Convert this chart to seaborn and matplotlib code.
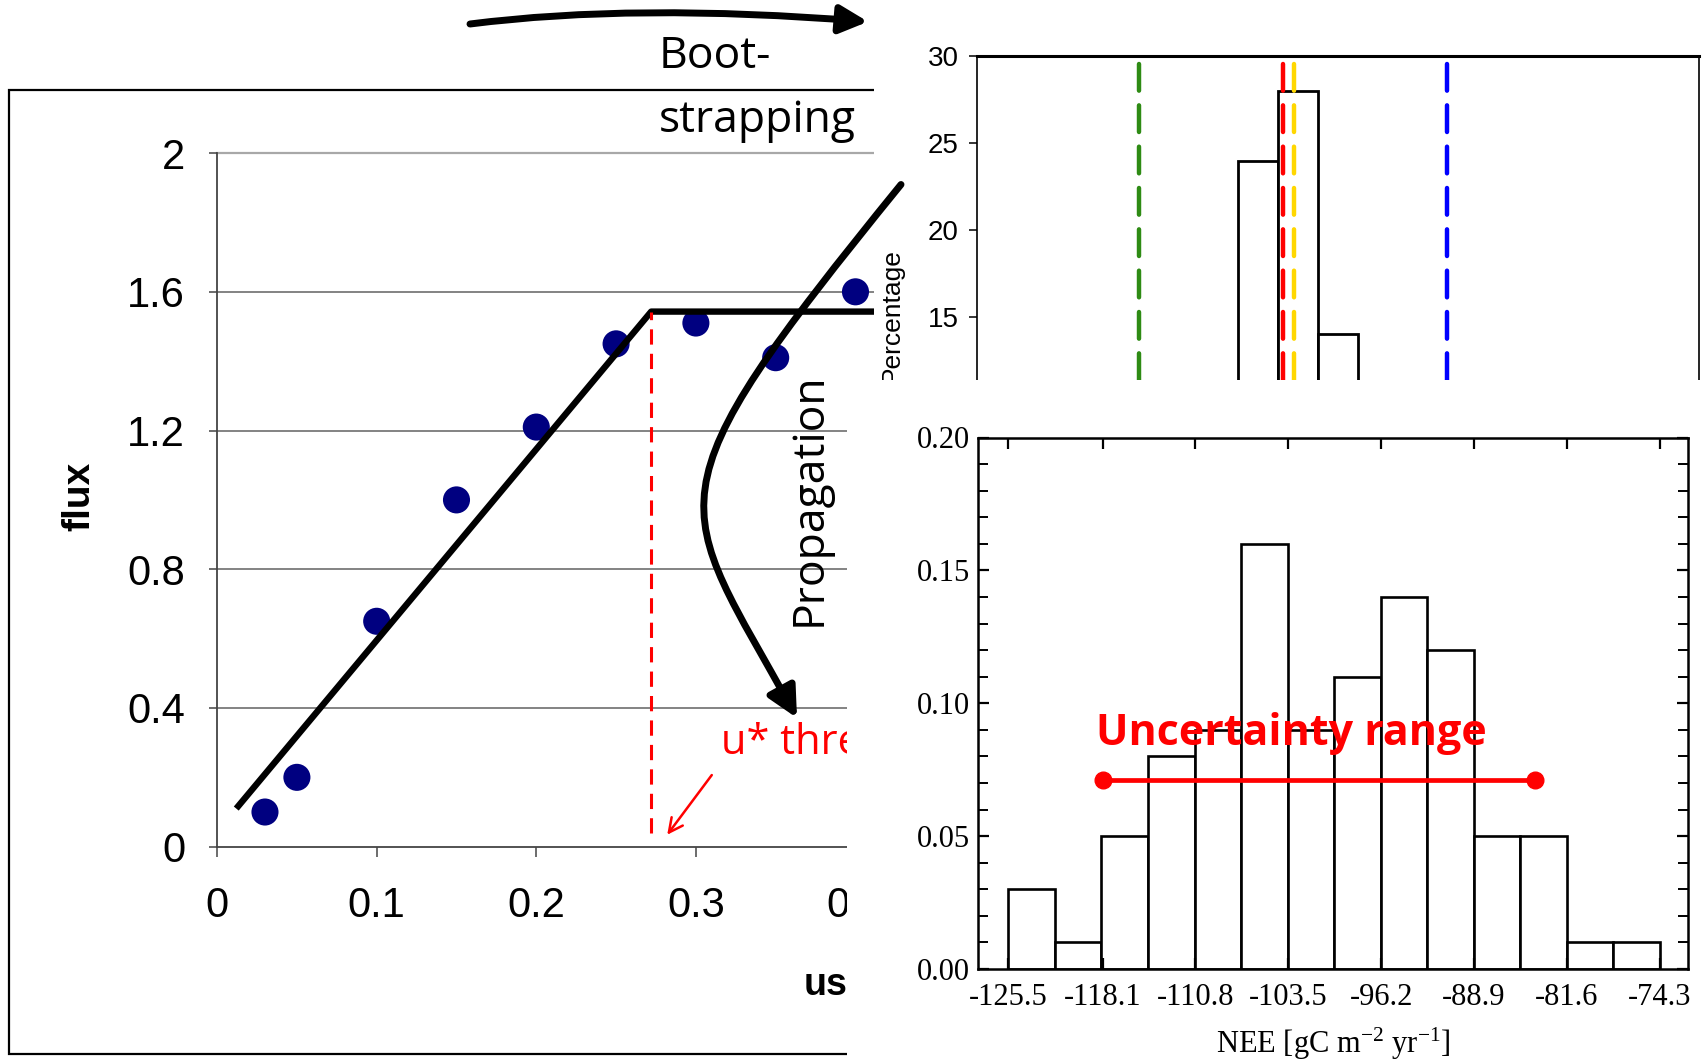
import numpy as np
import matplotlib
matplotlib.use("Agg")
import matplotlib.pyplot as plt
import seaborn as sns
from matplotlib.patches import Rectangle, FancyArrowPatch, ArrowStyle
from matplotlib.path import Path
from matplotlib.ticker import MultipleLocator

# ---------------- data ----------------
# left panel: flux vs u* (change-point fit)
ustar = [0.03, 0.05, 0.10, 0.15, 0.20, 0.25, 0.30, 0.35, 0.40]
flux = [0.10, 0.20, 0.65, 1.00, 1.21, 1.45, 1.51, 1.41, 1.60]
fit_ustar = [0.012, 0.272, 0.42]
fit_flux = [0.11, 1.543, 1.543]
ustar_threshold = 0.272
threshold_span = [0.04, 1.543]
flux_yticks = [0, 0.4, 0.8, 1.2, 1.6, 2.0]
flux_yticklabels = ["0", "0.4", "0.8", "1.2", "1.6", "2"]
ustar_xticks = [0, 0.1, 0.2, 0.3, 0.4]
ustar_xticklabels = ["0", "0.1", "0.2", "0.3", "0.4"]

# top-right panel: bootstrapped thresholds (percentage histogram, zoomed)
boot_bin_edges = [0, 1, 2, 3]
boot_pct = [24, 28, 14]
boot_yticks = [15, 20, 25, 30]
boot_lines = [-2.46, 1.14, 1.41, 5.21]
boot_line_colors = ["#2e8b14", "#ff0000", "#ffd700", "#0000ff"]

# bottom-right panel: NEE distribution
nee_edges = [-125.5, -121.84, -118.19, -114.53, -110.87, -107.21, -103.56,
             -99.90, -96.24, -92.59, -88.93, -85.27, -81.61, -77.96, -74.3]
nee_freq = [0.03, 0.01, 0.05, 0.08, 0.09, 0.16, 0.09, 0.11, 0.14, 0.12,
            0.05, 0.05, 0.01, 0.01]
nee_ticks = [-125.5, -118.1, -110.8, -103.5, -96.2, -88.9, -81.6, -74.3]
nee_ticklabels = ["-125.5", "-118.1", "-110.8", "-103.5", "-96.2", "-88.9",
                  "-81.6", "-74.3"]
nee_yticks = [0.0, 0.05, 0.10, 0.15, 0.20]
nee_yticklabels = ["0.00", "0.05", "0.10", "0.15", "0.20"]
unc_range = [-118.1, -84.1]
unc_level = 0.071

# ---------------- style ----------------
plt.rcParams['font.family'] = ['Liberation Sans', 'DejaVu Sans']
plt.rcParams['mathtext.fontset'] = 'custom'
plt.rcParams['mathtext.rm'] = 'Liberation Serif'
plt.rcParams['mathtext.it'] = 'Liberation Serif:italic'
plt.rcParams['mathtext.bf'] = 'Liberation Serif:bold'

W, H = 1702, 1060
fig = plt.figure(figsize=(W / 100, H / 100), dpi=100)
fig.patch.set_facecolor('white')


def fx(px):
    return px / W


def fy(py):
    return 1 - py / H


def box(x0, y0, x1, y1):
    return [x0 / W, 1 - y1 / H, (x1 - x0) / W, (y1 - y0) / H]


# ---------------- left panel ----------------
ax1 = fig.add_axes(box(217.1, 153.1, 887.4, 846.7))
ax1.set_zorder(0)
ax1.patch.set_alpha(0)
for yv in flux_yticks[1:]:
    if yv == flux_yticks[-1]:
        ax1.axhline(yv, color='#a8a8a8', lw=1.6, zorder=1, clip_on=False)
    else:
        ax1.axhline(yv, color='#6e6e6e', lw=1.2, zorder=1)
sns.scatterplot(x=ustar, y=flux, ax=ax1, s=380, color='#000080',
                edgecolor='none', zorder=2, legend=False)
ax1.plot(fit_ustar, fit_flux, color='black', lw=4.6, zorder=3,
         solid_capstyle='butt')
ax1.plot([ustar_threshold, ustar_threshold], threshold_span, color='red',
         lw=2.2, dashes=(5, 3), zorder=3)
ax1.annotate('', xy=(0.281, 0.028), xytext=(0.311, 0.213),
             arrowprops=dict(arrowstyle='->', color='red', lw=1.8,
                             mutation_scale=25))
ax1.text(0.316, 0.30, 'u* threshold', color='red', fontsize=30,
         family='Open Sans', va='center', ha='left')
ax1.set_xlim(0, 0.42)
ax1.set_ylim(0, 2)
ax1.set_xlabel('')
ax1.set_ylabel('')
for s in ['top', 'right']:
    ax1.spines[s].set_visible(False)
for s in ['left', 'bottom']:
    ax1.spines[s].set_color('#444444')
    ax1.spines[s].set_linewidth(1.3)
ax1.set_yticks(flux_yticks, flux_yticklabels)
ax1.set_xticks(ustar_xticks, ustar_xticklabels)
ax1.tick_params(axis='y', direction='out', length=6, width=1.1,
                color='#444444', pad=17, labelsize=30)
ax1.tick_params(axis='x', direction='out', length=7, width=1.1,
                color='#444444', pad=21, labelsize=30)
ax1.text(fx(79), fy(496), 'flux', transform=fig.transFigure, rotation=90,
         fontweight='bold', fontsize=28, ha='center', va='center')
ax1.text(fx(804), fy(985), 'ustar', transform=fig.transFigure,
         fontweight='bold', fontsize=27, ha='left', va='center')

# outer frame of the left panel
fig.add_artist(Rectangle((fx(8.5), fy(1054)), (1690 - 8.5) / W,
                         (1054 - 90) / H, transform=fig.transFigure,
                         fill=False, ec='black', lw=1.6, zorder=0.5))

# white overlays for the right-hand panels
fig.add_artist(Rectangle((fx(874), fy(380)), (W - 874) / W, 380 / H,
                         transform=fig.transFigure, fc='white', ec='none',
                         zorder=1))
fig.add_artist(Rectangle((fx(847), 0), (W - 847) / W, (H - 380) / H,
                         transform=fig.transFigure, fc='white', ec='none',
                         zorder=2.5))

# ---------------- top-right panel ----------------
ax2 = fig.add_axes(box(977, 56.4, 1699, 380))
ax2.set_zorder(2)
boot_centers = [(a + b) / 2 for a, b in zip(boot_bin_edges[:-1], boot_bin_edges[1:])]
sns.histplot(x=boot_centers, weights=boot_pct, bins=boot_bin_edges, ax=ax2,
             color='white', edgecolor='black', linewidth=2.0, alpha=1)
for xv, c in zip(boot_lines, boot_line_colors):
    ax2.axvline(xv, color=c, lw=3.2, dashes=(6, 3.3), dash_capstyle='round',
                zorder=3)
ax2.set_xlim(-6.5, 11.5)
ax2.set_ylim(11.37, 30)
ax2.set_xlabel('')
ax2.set_ylabel('')
ax2.spines['bottom'].set_visible(False)
ax2.spines['top'].set_linewidth(2.2)
ax2.spines['left'].set_linewidth(1.2)
ax2.spines['right'].set_linewidth(1.2)
ax2.set_xticks([])
ax2.set_yticks(boot_yticks, [str(v) for v in boot_yticks])
ax2.tick_params(axis='y', direction='out', length=6, width=1.1, pad=7,
                labelsize=20)
ax2.text(fx(892), fy(316), 'Percentage', transform=fig.transFigure,
         rotation=90, fontsize=19, ha='center', va='center')

# ---------------- bottom-right panel ----------------
ax3 = fig.add_axes(box(978, 437.5, 1688, 969))
ax3.set_zorder(3)
nee_centers = [(a + b) / 2 for a, b in zip(nee_edges[:-1], nee_edges[1:])]
sns.histplot(x=nee_centers, weights=nee_freq, bins=nee_edges, ax=ax3,
             color='white', edgecolor='black', linewidth=1.9, alpha=1)
ax3.plot(unc_range, [unc_level, unc_level], color='red', lw=3.4,
         marker='o', ms=12, zorder=4)
ax3.text(-118.6, 0.0843, 'Uncertainty range', color='red', fontsize=31,
         fontweight='bold', family='Open Sans', va='baseline', ha='left',
         zorder=5)
ax3.set_xlim(-127.89, -72.08)
ax3.set_ylim(0, 0.2)
ax3.set_xlabel('')
ax3.set_ylabel('')
for s in ax3.spines.values():
    s.set_linewidth(1.8)
ax3.set_xticks(nee_ticks, nee_ticklabels)
ax3.set_yticks(nee_yticks, nee_yticklabels)
ax3.yaxis.set_minor_locator(MultipleLocator(0.01))
ax3.tick_params(axis='y', which='major', direction='in', left=True,
                right=True, length=8, width=1.6, pad=6, labelsize=22,
                labelfontfamily='Liberation Serif')
ax3.tick_params(axis='y', which='minor', direction='in', left=True,
                right=True, length=7, width=1.4)
ax3.tick_params(axis='x', which='major', direction='in', top=True,
                bottom=True, length=8, width=1.6, pad=10, labelsize=22,
                labelfontfamily='Liberation Serif')
ax3.text(fx(1333), fy(1044), r'NEE [gC m$^{-2}$ yr$^{-1}$]',
         transform=fig.transFigure, family='Liberation Serif', fontsize=22,
         ha='center', va='center')

# ---------------- annotations on top ----------------
top_arrow = Path([(fx(470), fy(24)), (fx(634), fy(3)), (fx(868), fy(21.7))],
                 [Path.MOVETO, Path.CURVE3, Path.CURVE3])
fig.add_artist(FancyArrowPatch(path=top_arrow, transform=fig.transFigure,
                               arrowstyle=ArrowStyle('-|>', head_length=0.7,
                                                     head_width=0.35),
                               mutation_scale=24, lw=5, color='black',
                               zorder=5))
curve_arrow = Path([(fx(901), fy(184.5)), (fx(640.4), fy(504.8)),
                    (fx(675.2), fy(497.2)), (fx(797), fy(718))],
                   [Path.MOVETO, Path.CURVE4, Path.CURVE4, Path.CURVE4])
fig.add_artist(FancyArrowPatch(path=curve_arrow, transform=fig.transFigure,
                               arrowstyle=ArrowStyle('-|>', head_length=0.7,
                                                     head_width=0.35),
                               mutation_scale=26, lw=5, color='black',
                               zorder=5))

fig.text(fx(659), fy(68), 'Boot-', family='Open Sans', fontsize=32,
         va='baseline', ha='left', zorder=5)
fig.text(fx(659), fy(132), 'strapping', family='Open Sans', fontsize=32,
         va='baseline', ha='left', zorder=5)
fig.text(fx(809), fy(499), 'Propagation', family='Open Sans', fontsize=32,
         rotation=90, va='center', ha='center', zorder=5)

fig.savefig('out.png', dpi=100, facecolor='white')
